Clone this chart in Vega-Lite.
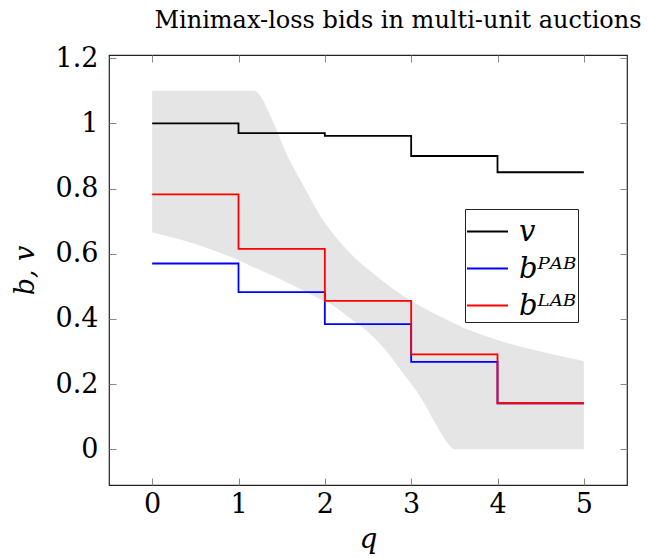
{
  "$schema": "https://vega.github.io/schema/vega-lite/v6.json",
  "width": 518,
  "height": 430,
  "autosize": {"type": "none"},
  "padding": {"left": 109, "top": 55, "right": 21, "bottom": 73},
  "title": {"text": "Minimax-loss bids in multi-unit auctions", "font": "DejaVu Serif", "fontSize": 24, "fontWeight": "normal", "anchor": "middle", "dx": 30, "offset": 11, "color": "black"},
  "config": {
    "font": "DejaVu Serif",
    "view": {"stroke": "#222222", "strokeWidth": 1.2},
    "axis": {"grid": false, "domain": false, "tickColor": "#888888", "tickWidth": 1, "tickSize": -7, "labelColor": "black", "titleColor": "black", "titleFontWeight": "normal"},
    "legend": {"orient": "none", "legendX": 356, "legendY": 154, "strokeColor": "#222222", "padding": 1, "symbolType": "stroke", "symbolSize": 1681, "symbolStrokeWidth": 2, "labelColor": "black", "rowPadding": 0, "labelOffset": 10, "fillColor": "white"}
  },
  "datasets": {
    "band": [
      {"q": 0, "hi": 1.1, "lo": 0.666},
      {"q": 0.5, "hi": 1.1, "lo": 0.63},
      {"q": 1.0, "hi": 1.1, "lo": 0.58},
      {"q": 1.18, "hi": 1.1, "lo": 0.558},
      {"q": 1.25, "hi": 1.085, "lo": 0.55},
      {"q": 1.4, "hi": 1.005, "lo": 0.532},
      {"q": 1.55, "hi": 0.91, "lo": 0.513},
      {"q": 1.75, "hi": 0.81, "lo": 0.487},
      {"q": 1.95, "hi": 0.715, "lo": 0.46},
      {"q": 2.1, "hi": 0.66, "lo": 0.44},
      {"q": 2.3, "hi": 0.6, "lo": 0.4},
      {"q": 2.5, "hi": 0.552, "lo": 0.36},
      {"q": 2.7, "hi": 0.51, "lo": 0.305},
      {"q": 2.9, "hi": 0.472, "lo": 0.235},
      {"q": 3.1, "hi": 0.44, "lo": 0.163},
      {"q": 3.3, "hi": 0.412, "lo": 0.07},
      {"q": 3.45, "hi": 0.393, "lo": 0.01},
      {"q": 3.5, "hi": 0.386, "lo": 0},
      {"q": 3.75, "hi": 0.358, "lo": 0},
      {"q": 4.0, "hi": 0.335, "lo": 0},
      {"q": 4.5, "hi": 0.3, "lo": 0},
      {"q": 5.0, "hi": 0.271, "lo": 0}
    ],
    "steps": [
      {"q": 0, "b": 1.0, "s": "v"},
      {"q": 1, "b": 0.97, "s": "v"},
      {"q": 2, "b": 0.962, "s": "v"},
      {"q": 3, "b": 0.9, "s": "v"},
      {"q": 4, "b": 0.85, "s": "v"},
      {"q": 5, "b": 0.85, "s": "v"},
      {"q": 0, "b": 0.57, "s": "bᴾᴬᴮ"},
      {"q": 1, "b": 0.482, "s": "bᴾᴬᴮ"},
      {"q": 2, "b": 0.384, "s": "bᴾᴬᴮ"},
      {"q": 3, "b": 0.268, "s": "bᴾᴬᴮ"},
      {"q": 4, "b": 0.141, "s": "bᴾᴬᴮ"},
      {"q": 5, "b": 0.141, "s": "bᴾᴬᴮ"}
    ],
    "lab": [
      {"q": 0, "b": 0.782, "s": "bᴸᴬᴮ"},
      {"q": 1, "b": 0.615, "s": "bᴸᴬᴮ"},
      {"q": 2, "b": 0.455, "s": "bᴸᴬᴮ"},
      {"q": 3, "b": 0.291, "s": "bᴸᴬᴮ"},
      {"q": 4, "b": 0.141, "s": "bᴸᴬᴮ"},
      {"q": 5, "b": 0.141, "s": "bᴸᴬᴮ"}
    ]
  },
  "layer": [
    {
      "data": {"name": "band"},
      "mark": {"type": "area", "color": "#e5e5e5", "opacity": 1, "interpolate": "monotone"},
      "encoding": {
        "x": {"field": "q", "type": "quantitative", "scale": {"domain": [-0.5, 5.5], "nice": false, "zero": false}, "axis": {"orient": "bottom", "values": [0, 1, 2, 3, 4, 5], "title": "q", "labelFont": "DejaVu Serif", "labelFontSize": 27, "titleFont": "DejaVu Serif", "titleFontSize": 28, "titleFontStyle": "italic", "labelPadding": 13, "titlePadding": 8}},
        "y": {"field": "hi", "type": "quantitative", "scale": {"domain": [-0.11, 1.21], "nice": false, "zero": false}, "axis": {"orient": "left", "values": [0, 0.2, 0.4, 0.6, 0.8, 1, 1.2], "format": ".1~f", "title": "b, v", "labelFont": "DejaVu Serif", "labelFontSize": 27, "titleFont": "DejaVu Serif", "titleFontSize": 27, "titleFontStyle": "italic", "labelPadding": 18, "titlePadding": 16}},
        "y2": {"field": "lo"}
      }
    },
    {
      "data": {"name": "steps"},
      "mark": {"type": "line", "interpolate": "step-after", "strokeWidth": 1.8},
      "encoding": {
        "x": {"field": "q", "type": "quantitative", "axis": {"orient": "top", "values": [0, 1, 2, 3, 4, 5], "labels": false, "title": null}},
        "y": {"field": "b", "type": "quantitative", "axis": {"orient": "right", "values": [0, 0.2, 0.4, 0.6, 0.8, 1, 1.2], "labels": false, "title": null}},
        "color": {"field": "s", "type": "nominal", "scale": {"domain": ["v", "bᴾᴬᴮ", "bᴸᴬᴮ"], "range": ["#000000", "#0000ff", "#ff0000"]}, "legend": {"title": null, "labelFont": "DejaVu Serif", "labelFontSize": 29, "labelFontStyle": "italic"}}
      }
    },
    {
      "data": {"name": "lab"},
      "mark": {"type": "line", "interpolate": "step-after", "strokeWidth": 1.8},
      "encoding": {
        "x": {"field": "q", "type": "quantitative", "axis": null},
        "y": {"field": "b", "type": "quantitative", "axis": null},
        "color": {"field": "s", "type": "nominal", "legend": null}
      }
    }
  ],
  "resolve": {"axis": {"x": "independent", "y": "independent"}}
}
